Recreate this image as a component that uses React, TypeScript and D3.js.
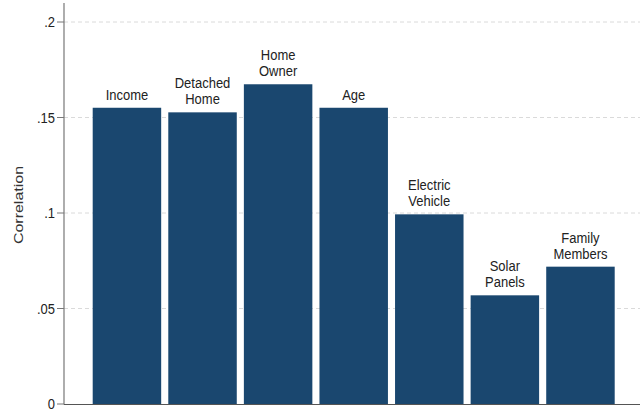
import React from "react";
import * as d3 from "d3";

const categories: string[][] = [
  ["Income"],
  ["Detached", "Home"],
  ["Home", "Owner"],
  ["Age"],
  ["Electric", "Vehicle"],
  ["Solar", "Panels"],
  ["Family", "Members"],
];
const values: number[] = [0.1551, 0.1527, 0.1674, 0.1551, 0.0993, 0.0569, 0.0719];
const yTicks: number[] = [0, 0.05, 0.1, 0.15, 0.2];
const yTickLabels: string[] = ["0", ".05", ".1", ".15", ".2"];

const W = 640;
const H = 411;
const axisX = 64;
const FONT = "'Liberation Sans', Arial, Helvetica, sans-serif";
const BAR = "#1a476f";
const VS = 1.12; // vertical stretch of glyphs

export default function App() {
  const y = d3.scaleLinear().domain([0, 0.2]).range([404, 22]);
  const x = d3
    .scaleBand<number>()
    .domain(d3.range(values.length))
    .range([92.7, 614.7])
    .paddingInner(0.094)
    .paddingOuter(0);

  const lineH = 16;
  const gap = 8;

  return (
    <svg
      width={W}
      height={H}
      style={{ position: "absolute", left: 0, top: 0, background: "#fff" }}
      fontFamily={FONT}
    >
      <rect width={W} height={H} fill="#fff" />
      {yTicks
        .filter((t) => t > 0)
        .map((t) => (
          <line
            key={"g" + t}
            x1={axisX}
            x2={W}
            y1={y(t)}
            y2={y(t)}
            stroke="#dadada"
            strokeWidth={1}
            strokeDasharray="4,3"
          />
        ))}
      {values.map((v, i) => (
        <rect
          key={"b" + i}
          x={x(i)!}
          y={y(v)}
          width={x.bandwidth()}
          height={y(0) - y(v)}
          fill={BAR}
        />
      ))}
      {values.map((v, i) => {
        const cx = x(i)! + x.bandwidth() / 2;
        const lines = categories[i];
        const baseY = y(v) - gap;
        return lines.map((ln, j) => {
          const by = baseY - (lines.length - 1 - j) * lineH;
          return (
            <text
              key={"l" + i + "-" + j}
              transform={`translate(${cx},${by}) scale(1,${VS})`}
              textAnchor="middle"
              fontSize={13}
              fill="#222"
            >
              {ln}
            </text>
          );
        });
      })}
      <line x1={axisX} x2={axisX} y1={3} y2={404.5} stroke="#777" strokeWidth={1.2} />
      <line x1={axisX} x2={W} y1={404.5} y2={404.5} stroke="#555" strokeWidth={1.2} />
      {yTicks.map((t, i) => (
        <g key={"t" + t}>
          <line x1={57} x2={axisX} y1={y(t)} y2={y(t)} stroke="#777" strokeWidth={1} />
          <text
            transform={`translate(55,${y(t) + 5}) scale(1,${VS})`}
            textAnchor="end"
            fontSize={13}
            fill="#222"
          >
            {yTickLabels[i]}
          </text>
        </g>
      ))}
      <text
        transform={`translate(22.5,205) rotate(-90) scale(1.2,1)`}
        textAnchor="middle"
        fontSize={13.3}
        fill="#333"
      >
        Correlation
      </text>
    </svg>
  );
}
